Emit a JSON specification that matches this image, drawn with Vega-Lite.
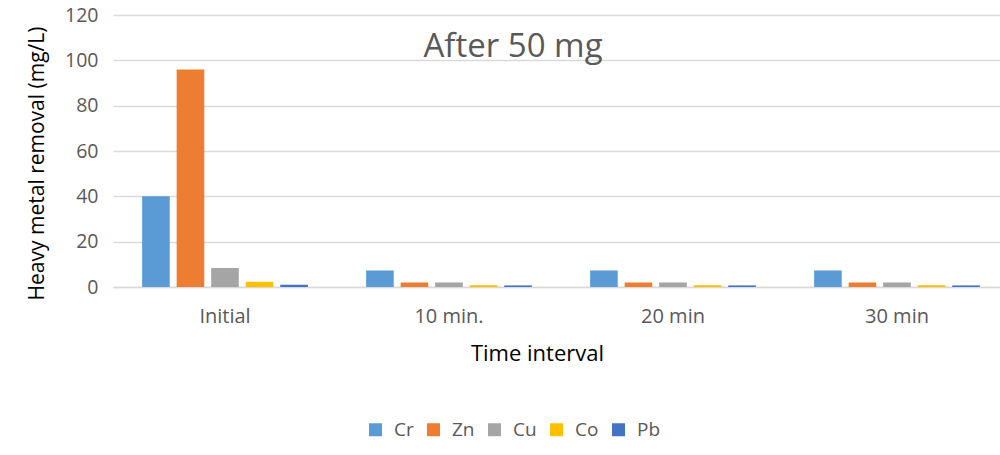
{
  "$schema": "https://vega.github.io/schema/vega-lite/v6.json",
  "width": 896,
  "height": 272,
  "autosize": {"type": "none"},
  "padding": {"left": 113, "top": 15, "right": 0, "bottom": 168},
  "background": "white",
  "title": {
    "text": "After 50 mg",
    "anchor": "middle",
    "frame": "group",
    "fontSize": 33,
    "font": "Open Sans",
    "fontWeight": "normal",
    "color": "#595959",
    "baseline": "alphabetic",
    "offset": 0,
    "dx": -48,
    "dy": 85
  },
  "data": {
    "values": [
      {"time": "Initial", "metal": "Cr", "value": 40.0},
      {"time": "Initial", "metal": "Zn", "value": 96.0},
      {"time": "Initial", "metal": "Cu", "value": 8.4},
      {"time": "Initial", "metal": "Co", "value": 2.3},
      {"time": "Initial", "metal": "Pb", "value": 1.0},
      {"time": "10 min.", "metal": "Cr", "value": 7.3},
      {"time": "10 min.", "metal": "Zn", "value": 2.0},
      {"time": "10 min.", "metal": "Cu", "value": 2.0},
      {"time": "10 min.", "metal": "Co", "value": 0.8},
      {"time": "10 min.", "metal": "Pb", "value": 0.7},
      {"time": "20 min", "metal": "Cr", "value": 7.3},
      {"time": "20 min", "metal": "Zn", "value": 2.0},
      {"time": "20 min", "metal": "Cu", "value": 2.0},
      {"time": "20 min", "metal": "Co", "value": 0.8},
      {"time": "20 min", "metal": "Pb", "value": 0.7},
      {"time": "30 min", "metal": "Cr", "value": 7.3},
      {"time": "30 min", "metal": "Zn", "value": 2.0},
      {"time": "30 min", "metal": "Cu", "value": 2.0},
      {"time": "30 min", "metal": "Co", "value": 0.8},
      {"time": "30 min", "metal": "Pb", "value": 0.7}
    ]
  },
  "mark": {"type": "bar"},
  "encoding": {
    "x": {
      "field": "time",
      "type": "nominal",
      "sort": ["Initial", "10 min.", "20 min", "30 min"],
      "scale": {"paddingInner": 0.26, "paddingOuter": 0.13},
      "axis": {
        "title": "Time interval",
        "labelAngle": 0,
        "labelFont": "Open Sans",
        "labelFontSize": 20,
        "labelColor": "#595959",
        "labelPadding": 19,
        "ticks": false,
        "domainColor": "#D9D9D9",
        "domainWidth": 1.5,
        "titleFont": "Open Sans",
        "titleFontSize": 22,
        "titleFontWeight": "normal",
        "titleColor": "#000000",
        "titleX": 424,
        "titleY": 73,
        "titleBaseline": "alphabetic",
        "titleAlign": "center"
      }
    },
    "xOffset": {
      "field": "metal",
      "type": "nominal",
      "sort": ["Cr", "Zn", "Cu", "Co", "Pb"],
      "scale": {"paddingInner": 0.2, "paddingOuter": 0}
    },
    "y": {
      "field": "value",
      "type": "quantitative",
      "scale": {"domain": [0, 120], "nice": false},
      "axis": {
        "title": "Heavy metal removal (mg/L)",
        "values": [0, 20, 40, 60, 80, 100, 120],
        "labelFont": "Open Sans",
        "labelFontSize": 19.5,
        "labelColor": "#595959",
        "labelPadding": 15,
        "ticks": false,
        "domain": false,
        "grid": true,
        "gridColor": "#D9D9D9",
        "gridWidth": 1.5,
        "titleFont": "Open Sans",
        "titleFontSize": 21,
        "titleFontWeight": "normal",
        "titleColor": "#000000",
        "titleAngle": 270,
        "titleX": -76,
        "titleY": 148,
        "titleBaseline": "middle",
        "titleAlign": "center"
      }
    },
    "color": {
      "field": "metal",
      "type": "nominal",
      "scale": {
        "domain": ["Cr", "Zn", "Cu", "Co", "Pb"],
        "range": ["#5B9BD5", "#ED7D31", "#A5A5A5", "#FFC000", "#4472C4"]
      },
      "legend": {
        "title": null,
        "orient": "none",
        "direction": "horizontal",
        "columns": 5,
        "legendX": 253,
        "legendY": 405,
        "symbolType": "square",
        "symbolSize": 169,
        "symbolStrokeWidth": 0,
        "symbolOpacity": 1,
        "labelFont": "Open Sans",
        "labelFontSize": 19,
        "labelColor": "#595959",
        "labelOffset": 9,
        "columnPadding": 10
      }
    }
  },
  "config": {
    "view": {"stroke": null}
  }
}
